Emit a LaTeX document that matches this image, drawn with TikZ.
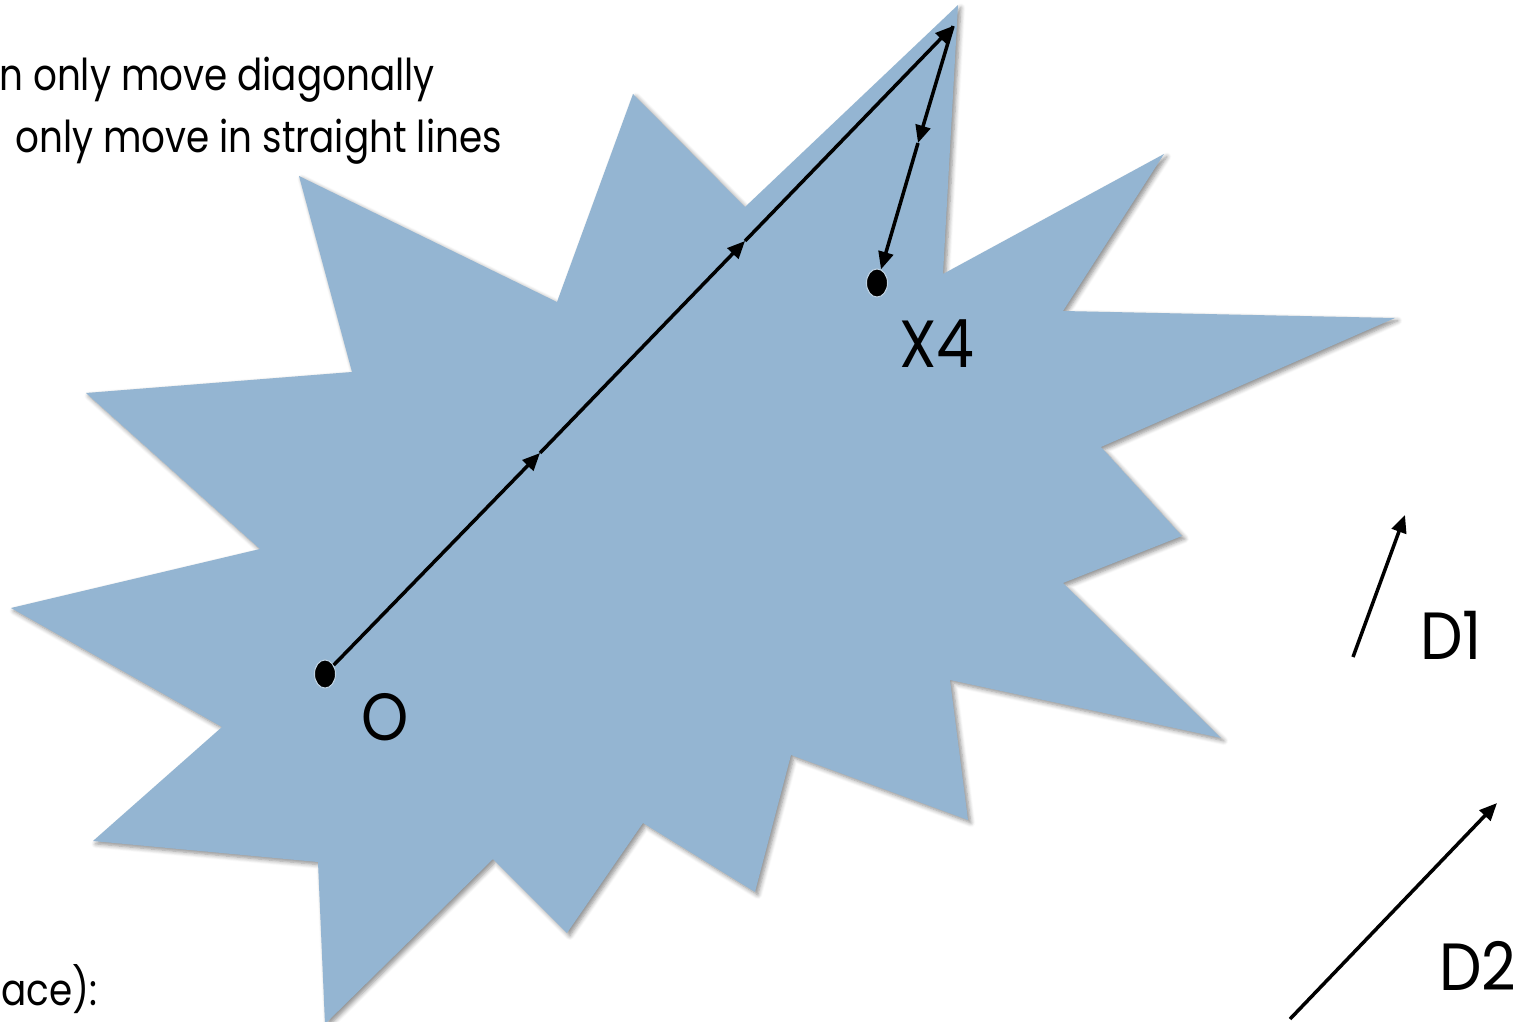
\documentclass[tikz,border=0pt]{standalone}
\usepackage{fontspec}
\setmainfont{Poppins}
\newfontfamily\labfont[FakeStretch=0.9]{Poppins}
\newfontfamily\txtfont[FakeStretch=0.85]{Poppins}
\usetikzlibrary{arrows.meta,shadows.blur,shapes.geometric}
\definecolor{starblue}{RGB}{148,181,210}
\tikzset{
  blob/.style={fill=starblue, draw=none,
    blur shadow={shadow xshift=1.6pt, shadow yshift=-1.6pt, shadow blur steps=6, shadow blur radius=2.5pt, shadow opacity=45}},
  dotnode/.style={ellipse, fill=black, minimum width=12pt, minimum height=16pt, inner sep=0pt, draw=starblue!60!white, line width=0.6pt},
  move/.style={line width=2pt, -{Triangle[length=10pt,width=8.5pt]}},
  biglab/.style={font=\labfont\fontsize{38}{38}\selectfont, inner sep=0pt},
  toptext/.style={font=\txtfont\fontsize{25}{25}\selectfont, inner sep=0pt, anchor=base west}
}
\begin{document}
\begin{tikzpicture}[x=0.02cm, y=-0.02cm]
\useasboundingbox (0,0) rectangle (1534,1021);
\begin{scope}
\clip (0,0) rectangle (1534,1021);
\path[blob] (958,5) -- (943,274) -- (1164,154) -- (1063,311) -- (1395,318)
  -- (1101,447) -- (1182,536) -- (1063,583) -- (1221,738) -- (950,680)
  -- (968,820) -- (791,755) -- (755,892) -- (643,823) -- (567,933)
  -- (493,859) -- (325,1024) -- (318,862) -- (93,841) -- (222,727)
  -- (11,608) -- (260,549) -- (86,393) -- (352,372) -- (299,176)
  -- (557,302) -- (633,94) -- (745,207) -- cycle;
\node[toptext] (t1) at (-1,90) {n only move diagonally};
\node[toptext] (t2) at (15,152) {only move in straight lines};
\node[toptext] (t3) at (1,1005) {ace):};
\end{scope}

\node[dotnode] (O) at (325,674) {};
\node[dotnode] (X4) at (877,283) {};
\coordinate (m1) at (540,453);
\coordinate (m2) at (745,241);
\coordinate (apex) at (953,26);
\coordinate (m3) at (918,143);

\draw[move] (O) -- (m1);
\draw[move] (m1) -- (m2);
\draw[move] (m2) -- (apex);
\draw[move] (apex) -- (m3);
\draw[move] (m3) -- (X4);

\node[biglab] (Olab) at (385,717) {O};
\node[biglab] (X4lab) at (937,344) {X4};
\node[biglab] (D1lab) at (1451,635) {D1};
\node[biglab] (D2lab) at (1478,966) {D2};

\coordinate (d1s) at (1353,657);
\coordinate (d1e) at (1405,515);
\coordinate (d2s) at (1290,1019);
\coordinate (d2e) at (1497,803);
\draw[move] (d1s) -- (d1e);
\draw[move] (d2s) -- (d2e);
\end{tikzpicture}
\end{document}
